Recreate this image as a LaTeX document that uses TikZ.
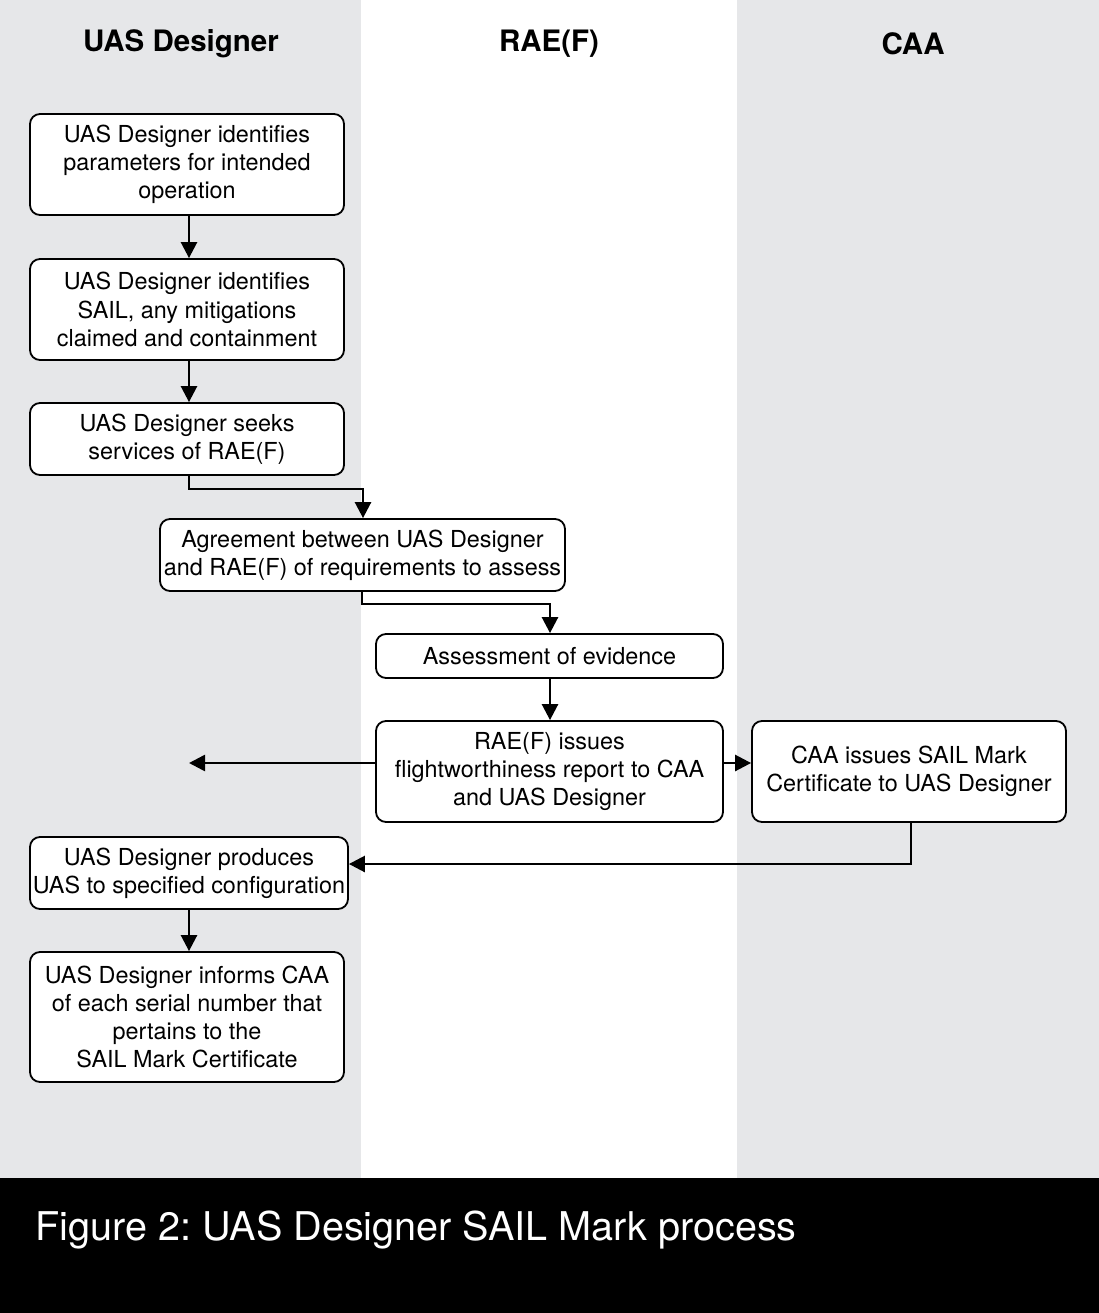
\documentclass[tikz,border=0pt]{standalone}
\usepackage{fontspec}
\setmainfont{TeX Gyre Heros}
\usetikzlibrary{arrows.meta,positioning,calc}
\definecolor{lanegray}{HTML}{E6E7E9}
\frenchspacing
\tikzset{
  box/.style={draw=black,line width=1.8pt,rounded corners=10pt,fill=white,align=center,
    font=\fontsize{23.4}{28.3}\selectfont,inner sep=0pt},
  conn/.style={line width=2.6pt,-{Triangle[length=16pt,width=16pt]}},
  lanetitle/.style={font=\fontsize{29.5}{34}\selectfont\bfseries},
}
\begin{document}
\begin{tikzpicture}[x=1pt,y=-1pt]
\useasboundingbox (0,0) rectangle (1099,1313);
% lanes
\fill[lanegray] (0,0) rectangle (361,1178);
\fill[white] (361,0) rectangle (737,1178);
\fill[lanegray] (737,0) rectangle (1099,1178);
\fill[black] (0,1178) rectangle (1099,1313);
\node[lanetitle] (t1) at (181,44) {UAS Designer};
\node[lanetitle] (t2) at (549,44) {RAE(F)};
\node[lanetitle] (t3) at (913,44) {CAA};
\node[anchor=west,text=white,font=\fontsize{39.6}{46}\selectfont] (cap) at (32,1230) {Figure 2: UAS Designer SAIL Mark process};
% boxes
\node[box,minimum width=314pt,minimum height=101pt] (b1) at (187,164.5) {UAS Designer identifies\\parameters for intended\\operation};
\node[box,minimum width=314pt,minimum height=101pt] (b2) at (187,309.5) {UAS Designer identifies\\SAIL, any mitigations\\claimed and containment};
\node[box,minimum width=314pt,minimum height=72pt] (b3) at (187,439) {UAS Designer seeks\\services of RAE(F)};
\node[box,minimum width=405pt,minimum height=72pt] (b4) at (362.5,555) {Agreement between UAS Designer\\and RAE(F) of requirements to assess};
\node[box,minimum width=347pt,minimum height=44pt] (b5) at (549.5,656) {Assessment of evidence};
\node[box,minimum width=347pt,minimum height=101pt] (b6) at (549.5,771.5) {RAE(F) issues\\flightworthiness report to CAA\\and UAS Designer};
\node[box,minimum width=314pt,minimum height=101pt] (b7) at (909,771.5) {CAA issues SAIL Mark\\Certificate to UAS Designer};
\node[box,minimum width=318pt,minimum height=72pt] (b8) at (189,873) {UAS Designer produces\\UAS to specified configuration};
\node[box,minimum width=314pt,minimum height=130pt] (b9) at (187,1017) {UAS Designer informs CAA\\of each serial number that\\pertains to the\\SAIL Mark Certificate};
\coordinate (free) at (189,763);
% connectors
\draw[conn] (b1.south -| 189,0) -- (b2.north -| 189,0);
\draw[conn] (b2.south -| 189,0) -- (b3.north -| 189,0);
\draw[conn] (b3.south -| 189,0) |- (363,489) -- (b4.north -| 363,0);
\draw[conn] (b4.south -| 362,0) |- (550,604) -- (b5.north -| 550,0);
\draw[conn] (b5.south -| 550,0) -- (b6.north -| 550,0);
\draw[conn] (b6.west |- free) -- (free);
\draw[conn] (b6.east |- free) -- (b7.west |- free);
\draw[conn] (b7.south -| 911,0) |- (b8.east |- 0,864);
\draw[conn] (b8.south -| 189,0) -- (b9.north -| 189,0);
\end{tikzpicture}
\end{document}
